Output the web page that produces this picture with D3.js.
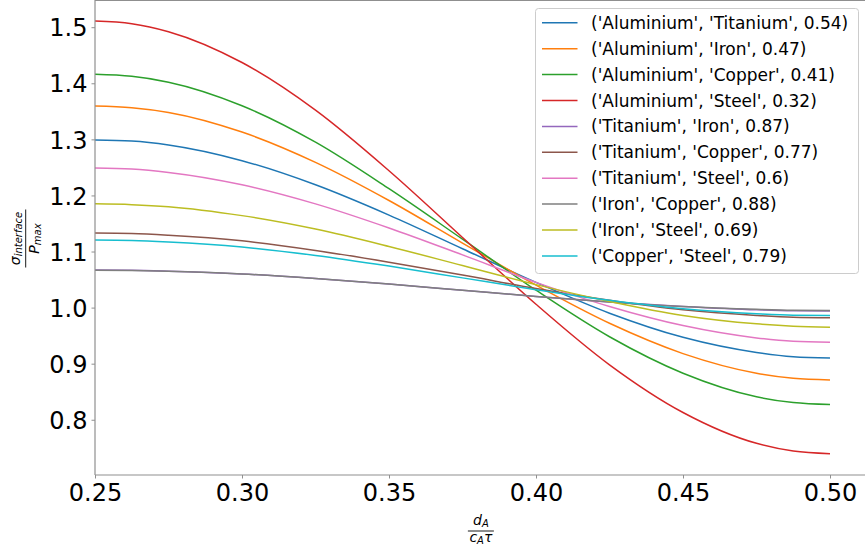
<!DOCTYPE html>
<html><head><meta charset="utf-8">
<script src="https://cdn.jsdelivr.net/npm/d3@7"></script>
<style>body{margin:0;background:#fff;} svg{display:block;font-family:"DejaVu Sans",sans-serif;}</style>
</head><body><svg id="chart" width="865" height="549"></svg>
<script>
// ---- data ----
const xValues = [0.25, 0.2625, 0.275, 0.30, 0.325, 0.35, 0.375, 0.40, 0.425, 0.45, 0.475, 0.4875, 0.50];
const aluminiumTitanium = [1.299, 1.297, 1.290, 1.262, 1.219, 1.165, 1.105, 1.045, 0.990, 0.947, 0.920, 0.9124, 0.910];
const aluminiumIron     = [1.3595, 1.3565, 1.348, 1.313, 1.259, 1.191, 1.115, 1.040, 0.972, 0.918, 0.883, 0.874, 0.871];
const aluminiumCopper   = [1.416, 1.4124, 1.402, 1.360, 1.295, 1.212, 1.122, 1.031, 0.948, 0.883, 0.841, 0.8306, 0.827];
const aluminiumSteel    = [1.511, 1.5063, 1.492, 1.437, 1.352, 1.244, 1.125, 1.006, 0.898, 0.813, 0.758, 0.7442, 0.7395];
const titaniumIron      = [1.067, 1.0666, 1.065, 1.060, 1.052, 1.042, 1.031, 1.020, 1.010, 1.002, 0.996, 0.9944, 0.994];
const titaniumCopper    = [1.133, 1.1321, 1.129, 1.119, 1.102, 1.081, 1.058, 1.034, 1.013, 0.996, 0.986, 0.9829, 0.982];
const titaniumSteel     = [1.249, 1.2471, 1.241, 1.219, 1.185, 1.142, 1.094, 1.045, 1.002, 0.968, 0.946, 0.9399, 0.938];
const ironCopper        = [1.0665, 1.0661, 1.065, 1.060, 1.052, 1.042, 1.031, 1.020, 1.010, 1.002, 0.997, 0.9954, 0.995];
const ironSteel         = [1.185, 1.1836, 1.180, 1.164, 1.140, 1.109, 1.075, 1.041, 1.011, 0.986, 0.971, 0.9668, 0.965];
const copperSteel       = [1.1205, 1.1197, 1.117, 1.108, 1.093, 1.074, 1.053, 1.032, 1.013, 0.998, 0.989, 0.9864, 0.986];

const seriesLabels = [
  "('Aluminium', 'Titanium', 0.54)",
  "('Aluminium', 'Iron', 0.47)",
  "('Aluminium', 'Copper', 0.41)",
  "('Aluminium', 'Steel', 0.32)",
  "('Titanium', 'Iron', 0.87)",
  "('Titanium', 'Copper', 0.77)",
  "('Titanium', 'Steel', 0.6)",
  "('Iron', 'Copper', 0.88)",
  "('Iron', 'Steel', 0.69)",
  "('Copper', 'Steel', 0.79)"
];
const seriesValues = [aluminiumTitanium, aluminiumIron, aluminiumCopper, aluminiumSteel,
  titaniumIron, titaniumCopper, titaniumSteel, ironCopper, ironSteel, copperSteel];
const seriesColors = ["#1f77b4","#ff7f0e","#2ca02c","#d62728","#9467bd",
  "#8c564b","#e377c2","#7f7f7f","#bcbd22","#17becf"];
const xTicks = [0.25, 0.30, 0.35, 0.40, 0.45, 0.50];
const yTicks = [0.8, 0.9, 1.0, 1.1, 1.2, 1.3, 1.4, 1.5];

// ---- layout ----
const svg = d3.select("#chart");
const L = 95, R = 866.75, T = 0, B = 475;
const x = d3.scaleLinear().domain([0.25, 0.5125]).range([L, R]);
const y = d3.scaleLinear().domain([0.7015, 1.5485]).range([B, T]);
const spineColor = "#8f8f8f";

// lines
const line = d3.line().x((d, i) => x(xValues[i])).y(d => y(d)).curve(d3.curveMonotoneX);
svg.append("g").selectAll("path").data(seriesValues).join("path")
  .attr("d", d => line(d))
  .attr("fill", "none")
  .attr("stroke", (d, i) => seriesColors[i])
  .attr("stroke-width", 1.5);

// axes
const xAxis = d3.axisBottom(x).tickValues(xTicks).tickFormat(d3.format(".2f"))
  .tickSize(3.5).tickPadding(5);
const gx = svg.append("g").attr("transform", `translate(0,${B})`).call(xAxis);
const yAxis = d3.axisLeft(y).tickValues(yTicks).tickFormat(d3.format(".1f"))
  .tickSize(3.5).tickPadding(4);
const gy = svg.append("g").attr("transform", `translate(${L},0)`).call(yAxis);
[gx, gy].forEach(g => {
  g.select(".domain").remove();
  g.selectAll(".tick line").attr("stroke", spineColor).attr("stroke-width", 1);
  g.selectAll(".tick text").attr("fill", "#000")
    .style("font-family", "'DejaVu Sans', sans-serif").style("font-size", "24px");
});
gy.selectAll(".tick text").attr("dy", "0.36em");

// spines
const sp = svg.append("g").attr("stroke", spineColor).attr("stroke-width", 1.2);
sp.append("line").attr("x1", L).attr("x2", L).attr("y1", T).attr("y2", B);
sp.append("line").attr("x1", L).attr("x2", R).attr("y1", B).attr("y2", B);
sp.append("line").attr("x1", L).attr("x2", R).attr("y1", T + 0.5).attr("y2", T + 0.5);
sp.append("line").attr("x1", R).attr("x2", R).attr("y1", T).attr("y2", B);

// x label (fraction d_A / c_A tau)
const xl = svg.append("g").attr("transform", `translate(${(L + R) / 2},531)`)
  .style("font-family", "'DejaVu Sans', sans-serif").style("font-style", "italic");
xl.append("line").attr("x1", -13).attr("x2", 13).attr("y1", 0).attr("y2", 0)
  .attr("stroke", "#000").attr("stroke-width", 0.9);
const xn = xl.append("text").attr("x", 0).attr("y", -6).attr("text-anchor", "middle").style("font-size", "14px");
xn.append("tspan").text("d");
xn.append("tspan").attr("dy", 2).style("font-size", "10px").text("A");
const xd = xl.append("text").attr("x", 0).attr("y", 10.5).attr("text-anchor", "middle").style("font-size", "14px");
xd.append("tspan").text("c");
xd.append("tspan").attr("dy", 2).style("font-size", "10px").text("A");
xd.append("tspan").attr("dy", -2).text("τ");

// y label (fraction sigma_interface / P_max), rotated
const yl = svg.append("g").attr("transform", `translate(25.7,${(T + B) / 2 + 1}) rotate(-90)`)
  .style("font-family", "'DejaVu Sans', sans-serif").style("font-style", "italic");
yl.append("line").attr("x1", -29).attr("x2", 29).attr("y1", 0).attr("y2", 0)
  .attr("stroke", "#000").attr("stroke-width", 0.9);
const yn = yl.append("text").attr("x", 0).attr("y", -6).attr("text-anchor", "middle").style("font-size", "14px");
yn.append("tspan").text("σ");
yn.append("tspan").attr("dy", 2).style("font-size", "10px").text("interface");
const yd = yl.append("text").attr("x", 0).attr("y", 13.5).attr("text-anchor", "middle").style("font-size", "14px");
yd.append("tspan").text("P");
yd.append("tspan").attr("dy", 2).style("font-size", "10px").text("max");

// legend
const lg = svg.append("g");
lg.append("rect").attr("x", 535.5).attr("y", 8.5).attr("width", 323).attr("height", 265)
  .attr("rx", 3).attr("fill", "#fff").attr("fill-opacity", 0.8)
  .attr("stroke", "#cccccc").attr("stroke-width", 1);
const rows = lg.selectAll("g.row").data(seriesLabels).join("g")
  .attr("transform", (d, i) => `translate(0,${22.8 + i * 25.9})`);
rows.append("line").attr("x1", 542).attr("x2", 577.5).attr("y1", 0).attr("y2", 0)
  .attr("stroke", (d, i) => seriesColors[i]).attr("stroke-width", 1.5);
rows.append("text").attr("x", 591).attr("y", 6)
  .style("font-family", "'DejaVu Sans', sans-serif").style("font-size", "17px")
  .attr("fill", "#000").text(d => d);
</script></body></html>
